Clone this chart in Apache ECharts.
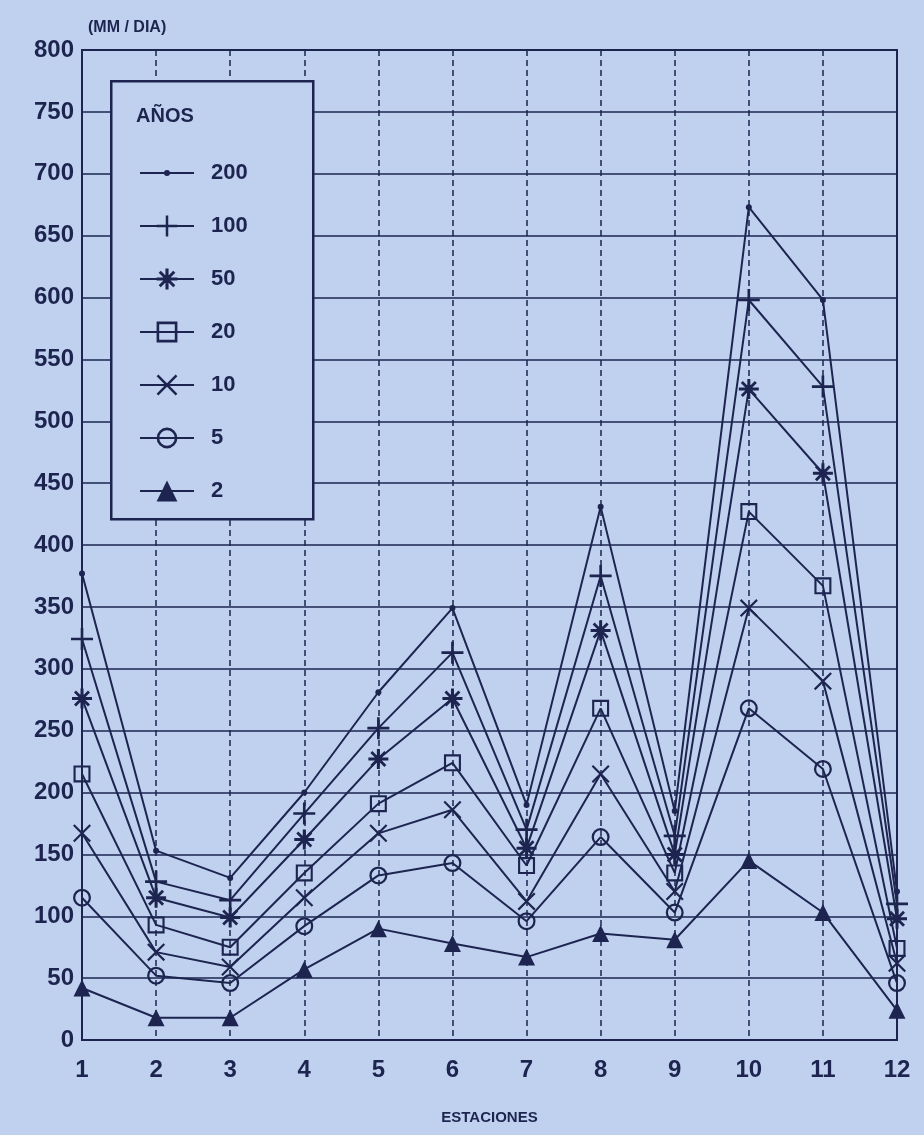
<!DOCTYPE html>
<html>
<head>
<meta charset="utf-8">
<script src="https://cdn.jsdelivr.net/npm/echarts@6/dist/echarts.min.js"></script>
<style>
html,body{margin:0;padding:0;background:#bfd1ee;}
#chart{width:924px;height:1135px;}
</style>
</head>
<body>
<div id="chart"></div>
<script>
var categories = ['1','2','3','4','5','6','7','8','9','10','11','12'];
var yTicks = [0,50,100,150,200,250,300,350,400,450,500,550,600,650,700,750,800];
var seriesNames = ['200','100','50','20','10','5','2'];
var s200 = [377,153,131,200,281,349,190,431,185,673,598,120];
var s100 = [324,128,113,183,252,313,170,375,165,598,528,110];
var s50  = [276,115,99,162,227,276,155,331,150,526,458,98];
var s20  = [215,93,75,135,191,224,141,268,135,427,367,74];
var s10  = [167,71,59,115,167,186,112,215,120,349,290,62];
var s5   = [115,52,46,92,133,143,96,164,103,268,219,46];
var s2   = [42,18,18,57,90,78,67,86,81,145,103,24];
var seriesData = [s200,s100,s50,s20,s10,s5,s2];

var ink = '#1d2450';
var bg = '#bfd1ee';

var plusPath = 'path://M-1.2,-10 L1.2,-10 L1.2,-1.2 L10,-1.2 L10,1.2 L1.2,1.2 L1.2,10 L-1.2,10 L-1.2,1.2 L-10,1.2 L-10,-1.2 L-1.2,-1.2 Z';
var xPath = 'path://M-10,-8.3 L-8.3,-10 L0,-1.7 L8.3,-10 L10,-8.3 L1.7,0 L10,8.3 L8.3,10 L0,1.7 L-8.3,10 L-10,8.3 L-1.7,0 Z';
var starPath = 'path://M-1.5,-10 L1.5,-10 L1.5,-1.5 L10,-1.5 L10,1.5 L1.5,1.5 L1.5,10 L-1.5,10 L-1.5,1.5 L-10,1.5 L-10,-1.5 L-1.5,-1.5 Z M-8,-6 L-6,-8 L0,-2 L6,-8 L8,-6 L2,0 L8,6 L6,8 L0,2 L-6,8 L-8,6 L-2,0 Z M-4,0 A4,4 0 1,1 4,0 A4,4 0 1,1 -4,0 Z';
var squarePath = 'path://M-10,-10 L10,-10 L10,10 L-10,10 Z M-7.5,-7.5 L-7.5,7.5 L7.5,7.5 L7.5,-7.5 Z';
var circlePath = 'path://M0,-10 A10,10 0 1,1 0,10 A10,10 0 1,1 0,-10 Z M0,-7.5 A7.5,7.5 0 1,0 0,7.5 A7.5,7.5 0 1,0 0,-7.5 Z';
var symbols = ['circle', plusPath, starPath, squarePath, xPath, circlePath, 'triangle'];
var sizes = [6, 22, 20, 17, 18, 18, 17];
// legend icon for the 200 series: line with a small dot (corner specks fix the bounding box)
var dotLineIcon = 'path://M0,0 L0.05,0 L0,0.05 Z M54,26 L53.95,26 L54,25.95 Z M0,12.1 L54,12.1 L54,13.9 L0,13.9 Z M24,13 A3,3 0 1,1 30,13 A3,3 0 1,1 24,13 Z';

var series = seriesNames.map(function(n, i){
  return {
    name: n,
    type: 'line',
    data: seriesData[i],
    symbol: symbols[i],
    symbolSize: sizes[i],
    showAllSymbol: true,
    lineStyle: {color: ink, width: 2},
    itemStyle: {color: ink, borderWidth: 0},
    emphasis: {disabled: true},
    z: 5
  };
});

var legendData = seriesNames.map(function(n, i){
  return i === 0 ? {name: n, icon: dotLineIcon, itemStyle: {color: ink}} : {name: n};
});

var chart = echarts.init(document.getElementById('chart'), null, {renderer: 'canvas'});
chart.setOption({
  backgroundColor: bg,
  animation: false,
  textStyle: {fontFamily: 'Liberation Sans, Arial, sans-serif', color: ink},
  grid: {left: 82, right: 27, top: 50, bottom: 95, show: true, borderColor: ink, borderWidth: 2, backgroundColor: 'transparent'},
  xAxis: {
    type: 'category',
    data: categories,
    boundaryGap: false,
    name: 'ESTACIONES',
    nameLocation: 'middle',
    nameGap: 70,
    nameTextStyle: {fontSize: 15, fontWeight: 'bold', color: ink},
    axisLine: {lineStyle: {color: ink, width: 2}},
    axisTick: {show: false},
    axisLabel: {fontSize: 24, fontWeight: 'bold', color: ink, margin: 18},
    splitLine: {show: true, lineStyle: {color: ink, width: 1.5, type: [6, 4]}}
  },
  yAxis: {
    type: 'value',
    min: 0,
    max: 800,
    interval: 50,
    name: '(MM / DIA)',
    nameLocation: 'end',
    nameGap: 14,
    nameTextStyle: {fontSize: 16, fontWeight: 'bold', color: ink, align: 'left', padding: [0, 0, 0, 6]},
    axisLine: {show: true, lineStyle: {color: ink, width: 2}},
    axisTick: {show: false},
    axisLabel: {fontSize: 24, fontWeight: 'bold', color: ink, margin: 8,
      formatter: function(v){ return yTicks.indexOf(v) >= 0 ? String(v) : ''; }},
    splitLine: {show: true, lineStyle: {color: ink, width: 1.5}}
  },
  graphic: [
    {type: 'rect', left: 110, top: 80, z: 10,
     shape: {width: 202, height: 438},
     style: {fill: bg, stroke: ink, lineWidth: 2.5}},
    {type: 'text', left: 136, top: 106, z: 11,
     style: {text: 'AÑOS', fill: ink, font: 'bold 20px "Liberation Sans", Arial, sans-serif'}}
  ],
  legend: {
    orient: 'vertical',
    left: 134,
    top: 155,
    z: 20,
    itemWidth: 54,
    itemHeight: 26,
    itemGap: 27,
    data: legendData,
    selectedMode: false,
    textStyle: {fontSize: 22, fontWeight: 'bold', color: ink, padding: [0, 0, 0, 12], lineHeight: 26}
  },
  series: series
});
</script>
</body>
</html>
